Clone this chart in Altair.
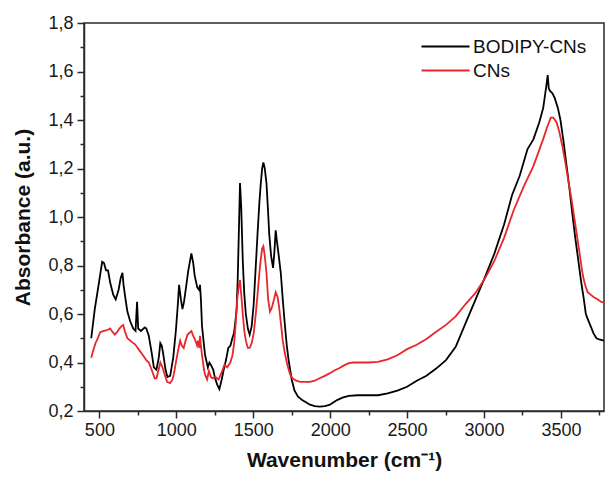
import altair as alt
import pandas as pd

# ---- data ----
wn_bodipy = [447, 470, 495, 518, 530, 543, 556, 570, 590, 606, 625, 639, 650, 657, 670, 682, 700, 720, 735, 745,
             752, 770, 795, 805, 821, 840, 854, 871, 886, 896, 905, 914, 930, 942, 960, 980, 997, 1010, 1018, 1030,
             1040, 1050, 1061, 1078, 1098, 1110, 1119, 1136, 1148, 1154, 1160, 1167, 1187, 1205, 1215, 1225, 1240,
             1250, 1265, 1280, 1295, 1308, 1323, 1338, 1352, 1364, 1375, 1384, 1392, 1399, 1407, 1414, 1422, 1432,
             1442, 1452, 1465, 1477, 1490, 1503, 1515, 1528, 1540, 1548, 1558, 1566, 1575, 1586, 1595, 1604, 1616,
             1629, 1638, 1646, 1654, 1662, 1679, 1692, 1705, 1718, 1730, 1750, 1768, 1790, 1818, 1845, 1869, 1900,
             1932, 1965, 1995, 2020, 2045, 2080, 2121, 2180, 2247, 2311, 2374, 2437, 2500, 2563, 2626, 2689, 2753,
             2816, 2879, 2942, 3005, 3068, 3131, 3182, 3232, 3283, 3321, 3359, 3385, 3396, 3405, 3414, 3421, 3429,
             3445, 3460, 3480, 3497, 3515, 3535, 3555, 3573, 3592, 3611, 3630, 3649, 3662, 3674, 3693, 3712, 3731,
             3750, 3780, 3808]
abs_bodipy = [0.50, 0.62, 0.72, 0.815, 0.81, 0.78, 0.78, 0.73, 0.68, 0.66, 0.70, 0.75, 0.77, 0.72, 0.66, 0.61, 0.57,
              0.54, 0.53, 0.65, 0.54, 0.53, 0.545, 0.54, 0.51, 0.44, 0.38, 0.37, 0.42, 0.48, 0.47, 0.44, 0.37, 0.34,
              0.345, 0.42, 0.53, 0.64, 0.72, 0.66, 0.62, 0.65, 0.70, 0.78, 0.85, 0.81, 0.76, 0.71, 0.70, 0.72, 0.66,
              0.55, 0.43, 0.38, 0.40, 0.39, 0.37, 0.34, 0.31, 0.29, 0.33, 0.37, 0.41, 0.46, 0.47, 0.50, 0.52, 0.57,
              0.62, 0.74, 0.95, 1.14, 1.04, 0.82, 0.68, 0.60, 0.54, 0.515, 0.55, 0.64, 0.78, 0.93, 1.06, 1.13, 1.20,
              1.225, 1.20, 1.14, 1.04, 0.93, 0.84, 0.79, 0.86, 0.945, 0.90, 0.86, 0.77, 0.66, 0.56, 0.47, 0.41, 0.33,
              0.285, 0.26, 0.245, 0.235, 0.226, 0.22, 0.218, 0.22, 0.225, 0.235, 0.245, 0.255, 0.262, 0.265, 0.265,
              0.265, 0.273, 0.284, 0.30, 0.325, 0.345, 0.375, 0.41, 0.465, 0.56, 0.655, 0.75, 0.85, 0.97, 1.09, 1.17,
              1.28, 1.32, 1.39, 1.45, 1.50, 1.54, 1.585, 1.53, 1.52, 1.51, 1.49, 1.45, 1.40, 1.32, 1.22, 1.12, 1.02,
              0.92, 0.83, 0.74, 0.66, 0.60, 0.58, 0.55, 0.52, 0.50, 0.495, 0.49, 0.485]

wn_cns = [447, 460, 475, 490, 505, 530, 556, 570, 581, 600, 615, 630, 644, 655, 665, 682, 710, 732, 760, 783, 805,
          821, 840, 859, 871, 885, 896, 910, 922, 940, 960, 975, 985, 1000, 1018, 1025, 1035, 1048, 1060, 1073, 1098,
          1110, 1124, 1135, 1141, 1150, 1154, 1160, 1167, 1180, 1187, 1200, 1212, 1225, 1237, 1255, 1275, 1295, 1313,
          1330, 1351, 1365, 1376, 1386, 1396, 1405, 1414, 1422, 1432, 1442, 1452, 1465, 1477, 1490, 1503, 1515, 1528,
          1540, 1548, 1558, 1566, 1575, 1586, 1597, 1609, 1620, 1629, 1646, 1658, 1667, 1680, 1692, 1705, 1722, 1740,
          1755, 1780, 1806, 1840, 1869, 1900, 1932, 1965, 1995, 2030, 2058, 2090, 2121, 2150, 2184, 2250, 2311, 2374,
          2437, 2500, 2563, 2626, 2689, 2753, 2816, 2879, 2942, 3005, 3068, 3131, 3194, 3258, 3321, 3384, 3410, 3434,
          3450, 3472, 3490, 3510, 3530, 3548, 3567, 3586, 3605, 3624, 3637, 3649, 3662, 3674, 3693, 3712, 3740, 3763,
          3790, 3808]
abs_cns = [0.42, 0.45, 0.48, 0.50, 0.525, 0.53, 0.535, 0.54, 0.53, 0.515, 0.525, 0.54, 0.55, 0.555, 0.53, 0.50,
           0.485, 0.475, 0.45, 0.43, 0.41, 0.40, 0.37, 0.335, 0.335, 0.37, 0.40, 0.38, 0.355, 0.32, 0.315, 0.33,
           0.355, 0.41, 0.47, 0.49, 0.47, 0.46, 0.49, 0.515, 0.53, 0.51, 0.49, 0.47, 0.49, 0.46, 0.51, 0.47, 0.43,
           0.37, 0.35, 0.33, 0.365, 0.34, 0.335, 0.34, 0.33, 0.36, 0.39, 0.38, 0.40, 0.43, 0.48, 0.56, 0.66, 0.71,
           0.74, 0.68, 0.60, 0.53, 0.49, 0.46, 0.46, 0.48, 0.52, 0.59, 0.68, 0.77, 0.82, 0.87, 0.88, 0.84, 0.77,
           0.66, 0.61, 0.625, 0.645, 0.69, 0.67, 0.635, 0.56, 0.49, 0.44, 0.39, 0.35, 0.335, 0.325, 0.32, 0.32,
           0.32, 0.325, 0.335, 0.345, 0.355, 0.368, 0.376, 0.388, 0.397, 0.40, 0.40, 0.40, 0.403, 0.413, 0.43,
           0.455, 0.473, 0.497, 0.527, 0.555, 0.59, 0.64, 0.685, 0.745, 0.82, 0.915, 1.03, 1.125, 1.21, 1.32, 1.37,
           1.41, 1.41, 1.39, 1.35, 1.29, 1.22, 1.15, 1.08, 1.00, 0.92, 0.84, 0.78, 0.74, 0.71, 0.69, 0.68, 0.67,
           0.66, 0.65, 0.645, 0.64]

series_names = ["BODIPY-CNs", "CNs"]
series_colors = ["#000000", "#e8262b"]

x_major = [500, 1000, 1500, 2000, 2500, 3000, 3500]
x_minor = [750, 1250, 1750, 2250, 2750, 3250, 3750]
y_major = [0.2, 0.4, 0.6, 0.8, 1.0, 1.2, 1.4, 1.6, 1.8]
y_minor = [0.3, 0.5, 0.7, 0.9, 1.1, 1.3, 1.5, 1.7]

df = pd.concat([
    pd.DataFrame({"wn": wn_bodipy, "abs": abs_bodipy, "series": series_names[0]}),
    pd.DataFrame({"wn": wn_cns, "abs": abs_cns, "series": series_names[1]}),
], ignore_index=True)

xscale = alt.Scale(domain=[400, 3780], nice=False, zero=False)
yscale = alt.Scale(domain=[0.2, 1.8], nice=False, zero=False)
ink = "#2a2a2a"

base = alt.Chart(df)

lines = base.mark_line(strokeWidth=1.8, clip=True).encode(
    x=alt.X("wn:Q", scale=xscale,
            axis=alt.Axis(values=x_major, orient="bottom", title="Wavenumber (cm⁻¹)",
                          tickSize=7, labelPadding=3, titlePadding=10, format="d")),
    y=alt.Y("abs:Q", scale=yscale,
            axis=alt.Axis(values=y_major, orient="left", title="Absorbance (a.u.)",
                          tickSize=7, labelPadding=4, titlePadding=14,
                          labelExpr="replace(format(datum.value, '.1f'), '.', ',')")),
    color=alt.Color("series:N",
                    scale=alt.Scale(domain=series_names, range=series_colors),
                    legend=alt.Legend(title=None, orient="none", legendX=352, legendY=14,
                                      symbolType="M-4,0H4", symbolSize=144, symbolStrokeWidth=1.8,
                                      labelFont="Liberation Sans", labelFontSize=19, labelColor="#111",
                                      labelOffset=18, rowPadding=4, padding=0)),
)

minor = base.mark_line(opacity=0).encode(
    x=alt.X("wn:Q", scale=xscale,
            axis=alt.Axis(values=x_minor, orient="bottom", title=None, labels=False,
                          domain=False, tickSize=4)),
    y=alt.Y("abs:Q", scale=yscale,
            axis=alt.Axis(values=y_minor, orient="left", title=None, labels=False,
                          domain=False, tickSize=4)),
    detail="series:N",
)

chart = alt.layer(lines, minor).resolve_axis(x="independent", y="independent").properties(
    width=520, height=388,
    autosize=alt.AutoSizeParams(type="none"),
    padding={"left": 76, "top": 15, "right": 1, "bottom": 62},
).configure_view(
    stroke=ink, strokeWidth=1.5
).configure_axis(
    grid=False, domainColor=ink, tickColor=ink, domainWidth=1.5, tickWidth=1.5,
    labelFont="Liberation Sans", labelFontSize=18, labelColor="#1a1a1a",
    titleFont="Liberation Sans", titleFontSize=21, titleFontWeight="bold", titleColor="#111",
)

chart.save("out.html", embed_options={"renderer": "svg", "actions": False})
